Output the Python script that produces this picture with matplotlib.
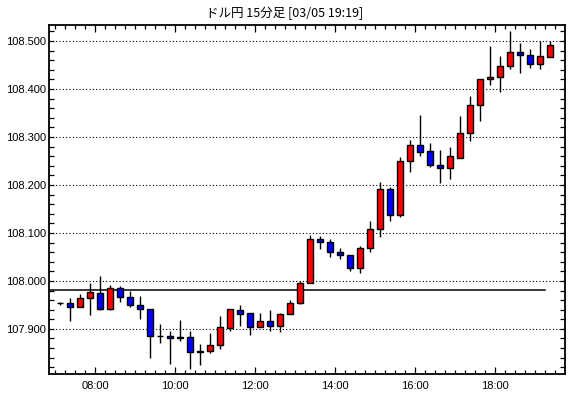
import matplotlib
matplotlib.use("Agg")
import matplotlib.pyplot as plt
import numpy as np

title = "ドル円 15分足 [03/05 19:19]"
start_hour = 7.0
bar_minutes = 15
ref_line = 107.981

opens = [107.954, 107.954, 107.945, 107.964, 107.974, 107.941, 107.985, 107.966, 107.949, 107.941,
         107.885, 107.885, 107.883, 107.883, 107.854, 107.853, 107.866, 107.902, 107.939, 107.933,
         107.903, 107.916, 107.905, 107.931, 107.953, 107.995, 108.087, 108.081, 108.060, 108.054,
         108.026, 108.068, 108.108, 108.191, 108.137, 108.249, 108.283, 108.271, 108.241, 108.236,
         108.257, 108.308, 108.367, 108.420, 108.424, 108.448, 108.476, 108.471, 108.451, 108.467]
highs = [107.957, 107.964, 107.972, 107.996, 108.011, 107.992, 107.990, 107.980, 107.969, 107.941,
         107.910, 107.896, 107.919, 107.896, 107.869, 107.892, 107.927, 107.942, 107.950, 107.933,
         107.933, 107.940, 107.933, 107.960, 108.000, 108.096, 108.094, 108.088, 108.068, 108.054,
         108.073, 108.125, 108.206, 108.195, 108.259, 108.294, 108.346, 108.288, 108.273, 108.280,
         108.344, 108.385, 108.420, 108.490, 108.469, 108.521, 108.496, 108.483, 108.500, 108.500]
lows = [107.949, 107.917, 107.945, 107.928, 107.939, 107.939, 107.957, 107.946, 107.921, 107.840,
        107.871, 107.826, 107.874, 107.817, 107.824, 107.849, 107.858, 107.896, 107.905, 107.888,
        107.903, 107.896, 107.894, 107.931, 107.951, 107.995, 108.067, 108.049, 108.046, 108.021,
        108.017, 108.061, 108.092, 108.124, 108.134, 108.226, 108.261, 108.238, 108.205, 108.213,
        108.257, 108.292, 108.334, 108.408, 108.394, 108.442, 108.434, 108.444, 108.441, 108.467]
closes = [107.954, 107.945, 107.964, 107.976, 107.941, 107.985, 107.966, 107.949, 107.941, 107.885,
          107.885, 107.880, 107.880, 107.851, 107.852, 107.866, 107.903, 107.942, 107.932, 107.903,
          107.916, 107.905, 107.931, 107.954, 107.995, 108.087, 108.081, 108.060, 108.054, 108.026,
          108.068, 108.108, 108.192, 108.137, 108.249, 108.283, 108.269, 108.242, 108.236, 108.260,
          108.308, 108.367, 108.420, 108.424, 108.448, 108.476, 108.470, 108.451, 108.469, 108.492]

y_ticks = [107.900, 108.000, 108.100, 108.200, 108.300, 108.400, 108.500]
x_tick_hours = [8, 10, 12, 14, 16, 18]
x_tick_labels = ["08:00", "10:00", "12:00", "14:00", "16:00", "18:00"]

o = np.array(opens); h = np.array(highs); l = np.array(lows); c = np.array(closes)
step = bar_minutes / 60.0
x = start_hour + step / 2 + step * np.arange(len(o))

W, H = 570, 398
fig = plt.figure(figsize=(W / 100, H / 100), dpi=100)
ax = fig.add_axes([49 / W, 1 - 374 / H, (565 - 49) / W, (374 - 25) / H])

xmin, xmax = 6.8425, 19.7425
ax.set_xlim(xmin, xmax)
ax.set_ylim(107.806, 108.5333)

# dotted grid lines
for yv in y_ticks:
    ax.axhline(yv, color="black", lw=0.8, linestyle=(0, (1, 2)), zorder=1)
# reference line
ax.plot([xmin, 19.24], [ref_line, ref_line], color="black", lw=1.1, zorder=1.5)

# wicks
ax.vlines(x, l, h, color="black", lw=1.0, zorder=2)
# bodies
up = c >= o
colors = np.where(up, "#ff0000", "#0000ff")
bottoms = np.minimum(o, c)
heights = np.abs(c - o)
ax.bar(x, heights, bottom=bottoms, width=6 / 40, color=colors, edgecolor="black",
       linewidth=1.0, zorder=3)

# ticks
font = "Liberation Sans"
ax.set_yticks(y_ticks)
ax.set_yticklabels([f"{v:.3f}" for v in y_ticks], fontsize=8, family=font)
ax.set_yticks(np.arange(107.82, 108.53, 0.02), minor=True)
ax.set_xticks(x_tick_hours)
ax.set_xticklabels(x_tick_labels, fontsize=8, family=font)
ax.set_xticks(np.arange(7.0, 19.75, 0.25), minor=True)
ax.tick_params(axis="both", which="both", direction="in", top=True, right=True,
               color="black", width=0.9)
ax.tick_params(axis="x", which="major", length=5, pad=5)
ax.tick_params(axis="x", which="minor", length=3)
ax.tick_params(axis="y", which="both", length=3.5, pad=2)

for sp in ax.spines.values():
    sp.set_linewidth(1.3)
    sp.set_color("black")

fig.text(0.5, 1 - 13 / H, title, ha="center", va="center", fontsize=9,
         family=["Noto Sans CJK JP", "DejaVu Sans"])

fig.savefig("out.png", dpi=100)
